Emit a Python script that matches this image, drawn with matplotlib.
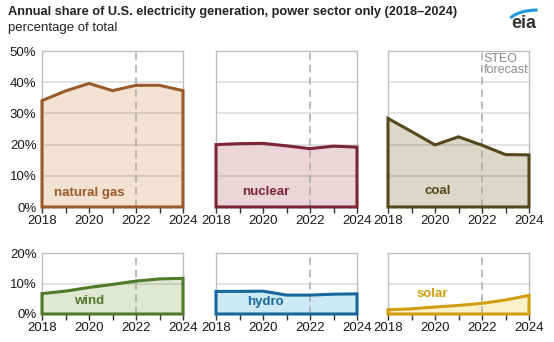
import numpy as np
import matplotlib.pyplot as plt
from matplotlib.patches import Arc

plt.rcParams['font.family'] = ['Liberation Sans', 'DejaVu Sans']

years = [2018, 2019, 2020, 2021, 2022, 2023, 2024]

natural_gas = [34.1, 37.2, 39.6, 37.3, 39.0, 39.0, 37.3]
nuclear = [20.0, 20.3, 20.4, 19.6, 18.7, 19.5, 19.2]
coal = [28.4, 24.2, 19.9, 22.5, 19.8, 16.8, 16.7]
wind = [6.7, 7.5, 8.7, 9.7, 10.8, 11.5, 11.7]
hydro = [7.4, 7.4, 7.5, 6.2, 6.2, 6.5, 6.6]
solar = [1.4, 1.7, 2.3, 2.8, 3.5, 4.6, 6.1]

labels = ["natural gas", "nuclear", "coal", "wind", "hydro", "solar"]
series = [natural_gas, nuclear, coal, wind, hydro, solar]
line_colors = ["#9a5b2a", "#7b2535", "#56471c", "#4e7a2a", "#17689a", "#d19e10"]
fill_colors = ["#f3e2d2", "#ecd5d9", "#dbd8ca", "#e0e8d2", "#cde9f6", "#fdf1c9"]
label_pos = [(2020.0, 4.6), (2020.1, 4.8), (2020.1, 5.0), (2020.0, 4.2), (2020.1, 3.8), (2019.9, 6.5)]

W, H = 554, 342
fig = plt.figure(figsize=(W / 100, H / 100), dpi=100)

col_x = [42, 216, 388]
col_w = 141
rows = [(51, 207, 50), (253, 314, 20)]  # top px, bottom px, ymax

txt_col = "#1a1a1a"

for i, (name, vals) in enumerate(zip(labels, series)):
    r, c = divmod(i, 3)
    top, bot, ymax = rows[r]
    ax = fig.add_axes([col_x[c] / W, 1 - bot / H, col_w / W, (bot - top) / H])
    ax.set_xlim(2018, 2024)
    ax.set_ylim(0, ymax)
    for s in ["top", "left", "right"]:
        ax.spines[s].set_color("#bdbdbd")
        ax.spines[s].set_linewidth(1.0)
    ax.spines["bottom"].set_visible(False)

    for g in np.arange(10, ymax, 10):
        ax.axhline(g, color="black", alpha=0.12, lw=1.3, zorder=2)

    # closed area: data line, then down to the baseline
    xs = years + [years[-1], years[0]]
    ys = vals + [0, 0]
    ax.fill(xs, ys, facecolor=fill_colors[i], edgecolor="none", zorder=1)
    ax.axvline(2022, color="#a8a8a8", lw=1.1, dashes=(5, 3), zorder=3)
    ax.fill(xs, ys, facecolor="none", edgecolor=line_colors[i],
            linewidth=2.2, joinstyle="miter", zorder=4, clip_on=False)

    ax.text(label_pos[i][0], label_pos[i][1], name, color=line_colors[i], fontsize=9.5,
            fontweight="bold", ha="center", va="center", zorder=5)

    ax.set_xticks(years)
    ax.set_xticklabels(["2018", "", "2020", "", "2022", "", "2024"])
    ax.tick_params(axis="x", length=4, width=1, color="#333333", labelsize=9.5,
                   labelcolor=txt_col, pad=2)
    ax.set_yticks(np.arange(0, ymax + 1, 10))
    if c == 0:
        ax.set_yticklabels([f"{int(t)}%" for t in np.arange(0, ymax + 1, 10)])
        ax.tick_params(axis="y", length=0, labelsize=9.5, labelcolor=txt_col, pad=4)
    else:
        ax.tick_params(axis="y", length=0, labelleft=False)

    if name == "coal":
        ax.text(2022.08, 49.5, "STEO\nforecast", color="#8c8c8c", fontsize=9,
                ha="left", va="top", linespacing=0.9)

fig.text(8 / W, 1 - 12 / H, "Annual share of U.S. electricity generation, power sector only (2018\u20132024)",
         fontsize=9.2, fontweight="bold", color="#222222", ha="left", va="center")
fig.text(8 / W, 1 - 28 / H, "percentage of total", fontsize=9.5, color="#222222",
         ha="left", va="center")

# eia logo
lax = fig.add_axes([500 / W, 1 - 40 / H, 54 / W, 40 / H])
lax.set_xlim(0, 54)
lax.set_ylim(0, 40)
lax.axis("off")
lax.add_patch(Arc((38, 18), 58, 24, theta1=92, theta2=172, color="#1a9ad6", lw=2.2))
lax.text(24, 17, "eia", fontsize=13, fontweight="bold", color="#333333", ha="center", va="center")

fig.savefig("out.png", dpi=100)
